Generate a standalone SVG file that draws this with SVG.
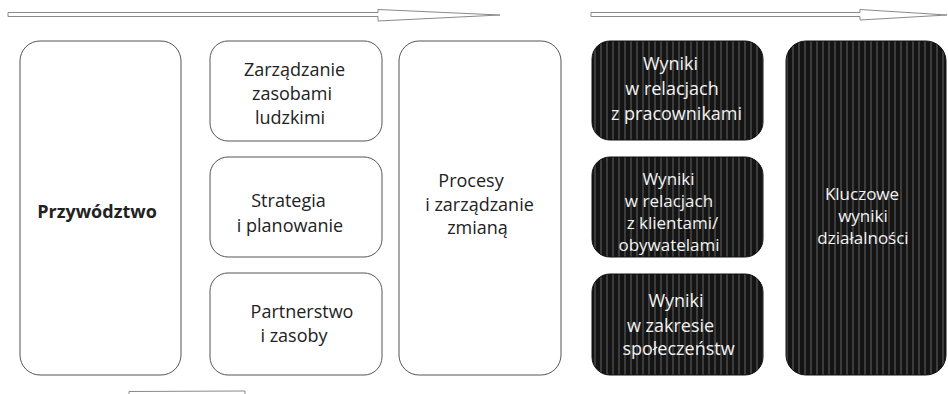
<svg xmlns="http://www.w3.org/2000/svg" width="948" height="394" viewBox="0 0 948 394">
<defs>
<pattern id="stripes" width="6" height="10" patternUnits="userSpaceOnUse">
<rect width="6" height="10" fill="#141414"/>
<rect x="0" width="2" height="10" fill="#3c3c3c"/>
</pattern>
<style>
.lb{fill:#fff;stroke:#555;stroke-width:1}
.db{fill:url(#stripes);stroke:#111;stroke-width:1}
.ar{fill:#fff;stroke:#8a8a8a;stroke-width:1}
text{font-family:"Open Sans","Liberation Sans",sans-serif;font-size:18px;text-anchor:middle}
.dk{fill:#222}
.wt{fill:#f2f2f2}
.bd{font-weight:bold}
.sm{font-size:17px}
</style>
</defs>
<g id="connectors">
<polygon class="ar" points="8,12.5 378,12.5 378,9.5 500,15 378,21 378,16.5 8,16.5"/>
<polygon class="ar" points="591,12.5 860,12.5 860,9.5 947,15 860,20 860,16.5 591,16.5"/>
<polygon class="ar" points="129,391.5 245,391 245,400 129,400"/>
</g>
<g id="przywodztwo">
<rect class="lb" x="20" y="41" width="161" height="334" rx="20"/>
<text class="dk bd" x="97" y="218">Przywództwo</text>
</g>
<g id="zarzadzanie-zasobami">
<rect class="lb" x="210" y="41" width="172" height="100" rx="18"/>
<text class="dk" x="294.5" y="76">Zarządzanie</text>
<text class="dk" x="292" y="100">zasobami</text>
<text class="dk" x="290" y="124">ludzkimi</text>
</g>
<g id="strategia">
<rect class="lb" x="210" y="157" width="172" height="100" rx="18"/>
<text class="dk" x="288.5" y="207">Strategia</text>
<text class="dk" x="290" y="232">i planowanie</text>
</g>
<g id="partnerstwo">
<rect class="lb" x="210" y="273" width="172" height="102" rx="18"/>
<text class="dk" x="302" y="318">Partnerstwo</text>
<text class="dk" x="294" y="342">i zasoby</text>
</g>
<g id="procesy">
<rect class="lb" x="399" y="41" width="162" height="334" rx="20"/>
<text class="dk" x="471" y="187">Procesy</text>
<text class="dk" x="479.5" y="211">i zarządzanie</text>
<text class="dk" x="477.5" y="234">zmianą</text>
</g>
<g id="wyniki-pracownicy">
<rect class="db" x="592" y="41" width="171" height="99" rx="18"/>
<text class="wt" x="670.5" y="70">Wyniki</text>
<text class="wt" x="672" y="95">w relacjach</text>
<text class="wt" x="676.5" y="120">z pracownikami</text>
</g>
<g id="wyniki-klienci">
<rect class="db" x="592" y="157" width="171" height="100" rx="18"/>
<text class="wt sm" x="668.5" y="185">Wyniki</text>
<text class="wt sm" x="669" y="207">w relacjach</text>
<text class="wt sm" x="672.5" y="229">z klientami/</text>
<text class="wt sm" x="669" y="251">obywatelami</text>
</g>
<g id="wyniki-spoleczenstwo">
<rect class="db" x="592" y="274" width="171" height="101" rx="18"/>
<text class="wt" x="676" y="307">Wyniki</text>
<text class="wt" x="670.5" y="332">w zakresie</text>
<text class="wt" x="678.5" y="355">społeczeństw</text>
</g>
<g id="kluczowe-wyniki">
<rect class="db" x="786" y="41" width="160" height="334" rx="20"/>
<text class="wt sm" x="862" y="200">Kluczowe</text>
<text class="wt sm" x="863" y="222">wyniki</text>
<text class="wt sm" x="863" y="244">działalności</text>
</g>
</svg>
